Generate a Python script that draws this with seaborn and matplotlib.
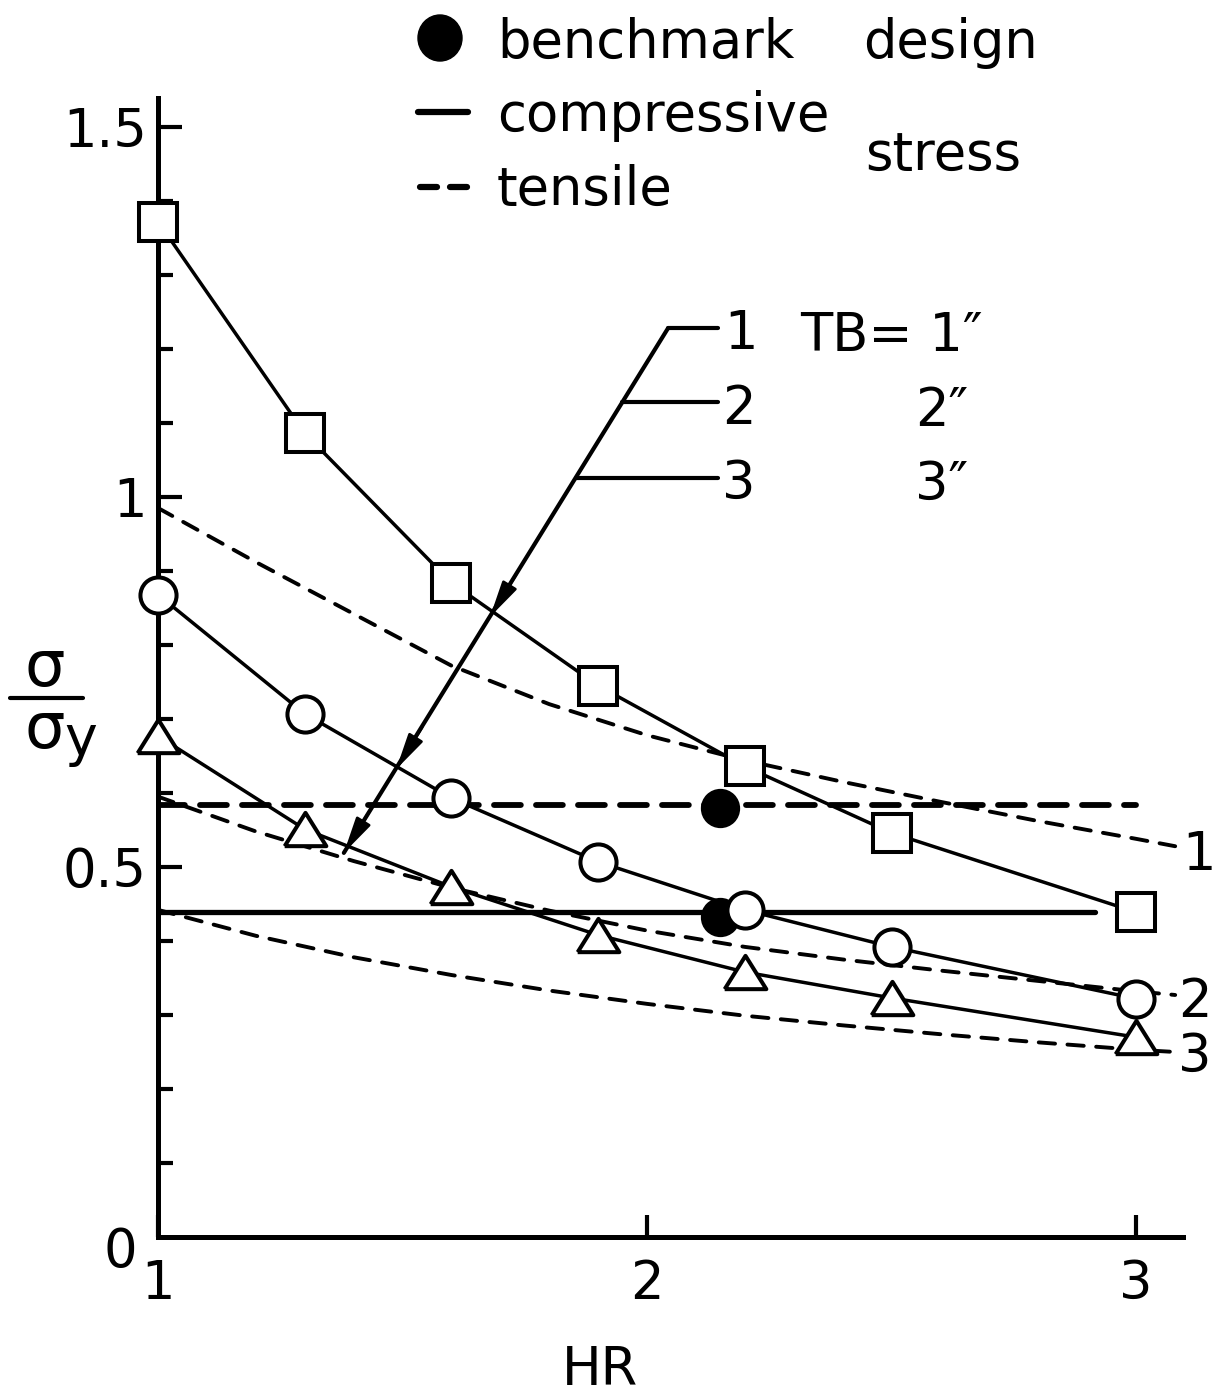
import numpy as np
import pandas as pd
import matplotlib
matplotlib.use("Agg")
import matplotlib.pyplot as plt
from matplotlib.lines import Line2D
from matplotlib.patches import Ellipse
import seaborn as sns

# ---------------- data ----------------
hr = [1.0, 1.3, 1.6, 1.9, 2.2, 2.5, 3.0]
comp_tb1 = [1.372, 1.086, 0.884, 0.745, 0.636, 0.546, 0.439]
comp_tb2 = [0.868, 0.707, 0.593, 0.507, 0.442, 0.392, 0.322]
comp_tb3 = [0.677, 0.551, 0.473, 0.408, 0.358, 0.323, 0.270]

hr_t = [1.0, 1.2, 1.4, 1.6, 1.8, 2.0, 2.2, 2.4, 2.6, 2.8, 3.0, 3.08]
tens_tb1 = [0.985, 0.912, 0.842, 0.772, 0.720, 0.678, 0.644, 0.615, 0.588, 0.562, 0.538, 0.528]
tens_tb2 = [0.595, 0.548, 0.508, 0.472, 0.441, 0.414, 0.392, 0.375, 0.360, 0.346, 0.332, 0.327]
tens_tb3 = [0.442, 0.407, 0.378, 0.354, 0.333, 0.315, 0.299, 0.286, 0.274, 0.263, 0.253, 0.250]

design_hr_comp = [1.0, 2.916]
design_comp = [0.439, 0.439]
design_hr_tens = [1.0, 3.0]
design_tens = [0.584, 0.584]

bench_hr = [2.149, 2.149]
bench_val = [0.580, 0.432]

arrow_hr = [2.043, 1.380]
arrow_val = [1.228, 0.519]
arrow_tips_hr = [1.679, 1.487, 1.380]
arrow_tips_val = [0.838, 0.632, 0.519]
leader_hr = [[2.043, 2.145], [1.949, 2.145], [1.854, 2.145]]
leader_val = [1.228, 1.128, 1.026]

ytick_major = [0.5, 1.0, 1.5]
ytick_labels = ["0.5", "1", "1.5"]
xtick_major = [1, 2, 3]
xtick_labels = ["1", "2", "3"]

# ---------------- figure ----------------
sns.set_theme(style="ticks")
plt.rcParams["font.family"] = ["DejaVu Sans"]
for k in ("text.color", "axes.labelcolor", "xtick.color", "ytick.color", "axes.edgecolor"):
    plt.rcParams[k] = "black"
W, H = 1219, 1398
fig = plt.figure(figsize=(W / 100, H / 100), dpi=100)
fig.patch.set_facecolor("white")


def P(x, y):
    return (x / W, 1 - y / H)


ax = fig.add_axes([158 / W, (H - 1237) / H, (1183 - 158) / W, (1237 - 98) / H])
ax.set_facecolor("white")
ax.set_xlim(1.0, 3.096)
ax.set_ylim(0.0, 1.539)

FS = 38
LW = 2.5

# horizontal design lines
sns.lineplot(x=design_hr_comp, y=design_comp, ax=ax, color="black", lw=3.8,
             sort=False, estimator=None, zorder=2)
sns.lineplot(x=design_hr_tens, y=design_tens, ax=ax, color="black", lw=4.2,
             sort=False, estimator=None, zorder=2)
ax.lines[-1].set_dashes((4.6, 2.6))
ax.lines[-1].set_dash_capstyle("round")

# tensile curves (dashed)
for vals in (tens_tb1, tens_tb2, tens_tb3):
    sns.lineplot(x=hr_t, y=vals, ax=ax, color="black", lw=2.8,
                 sort=False, estimator=None, zorder=2, clip_on=False)
    ax.lines[-1].set_dashes((4.2, 3.2))
    ax.lines[-1].set_dash_capstyle("round")

# benchmark points
sns.scatterplot(x=bench_hr, y=bench_val, ax=ax, color="black", s=800,
                edgecolor="black", linewidth=0, zorder=3)

# compressive curves with markers
tri = [(-1, -0.8), (1, -0.8), (0, 0.8), (-1, -0.8)]
for vals, mk, ms in ((comp_tb1, "s", 27), (comp_tb2, "o", 26), (comp_tb3, tri, 30)):
    sns.lineplot(x=hr, y=vals, ax=ax, color="black", lw=LW, sort=False,
                 estimator=None, marker=mk, markersize=ms,
                 markerfacecolor="white", markeredgecolor="black",
                 markeredgewidth=2.9, zorder=4, clip_on=False)

# arrow line with leaders
sns.lineplot(x=arrow_hr, y=arrow_val, ax=ax, color="black", lw=3.0,
             sort=False, estimator=None, zorder=5)
for xs, v in zip(leader_hr, leader_val):
    sns.lineplot(x=xs, y=[v, v], ax=ax, color="black", lw=3.0,
                 sort=False, estimator=None, zorder=5)
dx = arrow_hr[0] - arrow_hr[1]
dy = arrow_val[0] - arrow_val[1]
for tx, ty in zip(arrow_tips_hr, arrow_tips_val):
    ax.annotate("", xy=(tx, ty), xytext=(tx + 0.08 * dx, ty + 0.08 * dy),
                arrowprops=dict(arrowstyle="-|>,head_length=2.2,head_width=0.5",
                                color="black", lw=2.0, shrinkA=0, shrinkB=0,
                                mutation_scale=10),
                zorder=6)

if ax.get_legend() is not None:
    ax.get_legend().remove()

# axes styling
sns.despine(ax=ax)
for s in ("left", "bottom"):
    ax.spines[s].set_linewidth(3.6)
    ax.spines[s].set_color("black")
    ax.spines[s].set_zorder(1)
ax.set_yticks(ytick_major)
ax.set_yticklabels(ytick_labels)
ax.set_yticks([0.1, 0.2, 0.3, 0.4, 0.6, 0.7, 0.8, 0.9, 1.1, 1.2, 1.3, 1.4], minor=True)
ax.set_xticks(xtick_major)
ax.set_xticklabels(xtick_labels)
ax.tick_params(axis="y", which="major", direction="in", length=17, width=3,
               labelsize=FS, pad=8, colors="black")
ax.tick_params(axis="y", which="minor", direction="in", length=11, width=3,
               colors="black")
ax.tick_params(axis="x", which="major", direction="in", length=16, width=3,
               labelsize=FS, pad=15, colors="black")
ax.set_xlabel("")
ax.set_ylabel("")

# axis labels
fig.text(*P(600, 1385), "HR", fontsize=FS, ha="center", va="baseline")
fig.text(*P(120, 1267), "0", fontsize=FS, ha="center", va="baseline")
fig.text(*P(45, 686), "σ", fontsize=46, ha="center", va="baseline")
fig.add_artist(Line2D([10 / W, 83 / W], [1 - 698 / H, 1 - 698 / H],
                      color="black", lw=3.0, solid_capstyle="round"))
fig.text(*P(45, 748), "σ", fontsize=46, ha="center", va="baseline")
fig.text(*P(64, 755), "y", fontsize=40, ha="left", va="baseline")

# legend block
leg_ax = fig.add_axes([0, 0, 1, 1], facecolor="none")
leg_ax.set_xlim(0, W)
leg_ax.set_ylim(H, 0)
leg_ax.axis("off")
leg_ax.add_patch(Ellipse((440, 38), 44, 46, color="black"))
leg_ax.plot([418, 468], [112, 112], color="black", lw=4.5, solid_capstyle="round")
leg_ax.plot([420, 437], [187, 187], color="black", lw=4.5, solid_capstyle="round")
leg_ax.plot([450, 467], [187, 187], color="black", lw=4.5, solid_capstyle="round")
fig.text(*P(497, 58), "benchmark", fontsize=FS, ha="left", va="baseline")
fig.text(*P(863, 58), "design", fontsize=FS, ha="left", va="baseline")
fig.text(*P(497, 131), "compressive", fontsize=FS, ha="left", va="baseline")
fig.text(*P(497, 205), "tensile", fontsize=FS, ha="left", va="baseline")
fig.text(*P(865, 171), "stress", fontsize=FS, ha="left", va="baseline")

# arrow leader labels and TB labels
fig.text(*P(724, 349), "1", fontsize=FS, ha="left", va="baseline")
fig.text(*P(722, 424), "2", fontsize=FS, ha="left", va="baseline")
fig.text(*P(722, 499), "3", fontsize=FS, ha="left", va="baseline")
fig.text(*P(800, 351), "TB= 1″", fontsize=FS, ha="left", va="baseline")
fig.text(*P(915, 426), "2″", fontsize=FS, ha="left", va="baseline")
fig.text(*P(915, 500), "3″", fontsize=FS, ha="left", va="baseline")

# right-end curve labels
fig.text(*P(1182, 870), "1", fontsize=FS, ha="left", va="baseline")
fig.text(*P(1178, 1017), "2", fontsize=FS, ha="left", va="baseline")
fig.text(*P(1178, 1072), "3", fontsize=FS, ha="left", va="baseline")

fig.savefig("out.png", dpi=100, facecolor="white")
